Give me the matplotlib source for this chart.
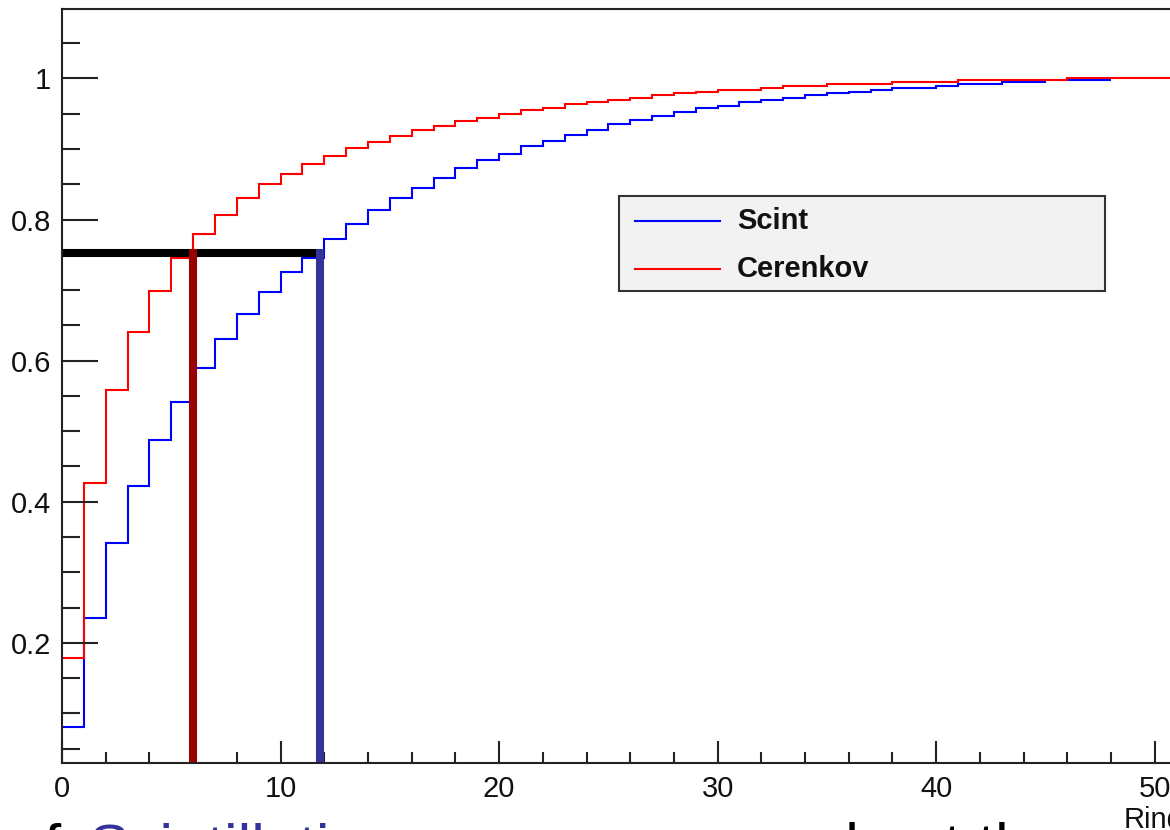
import numpy as np
import matplotlib
matplotlib.use("Agg")
import matplotlib.pyplot as plt
from matplotlib.patches import Rectangle
from matplotlib.lines import Line2D

plt.rcParams['font.family'] = ['Liberation Sans', 'DejaVu Sans']

# cumulative fraction per ring bin (bin width 1)
scint = [0.081, 0.235, 0.342, 0.422, 0.487, 0.541, 0.590, 0.630, 0.666, 0.697,
         0.725, 0.745, 0.773, 0.793, 0.813, 0.830, 0.845, 0.859, 0.873, 0.885,
         0.893, 0.904, 0.912, 0.920, 0.927, 0.935, 0.941, 0.947, 0.952, 0.958,
         0.961, 0.967, 0.969, 0.973, 0.976, 0.979, 0.981, 0.983, 0.986, 0.986,
         0.989, 0.992, 0.992, 0.995, 0.995, 0.998, 0.998, 0.998]
cerenkov = [0.178, 0.427, 0.558, 0.641, 0.699, 0.746, 0.779, 0.807, 0.830, 0.851,
            0.865, 0.879, 0.890, 0.901, 0.910, 0.918, 0.927, 0.932, 0.940, 0.944,
            0.950, 0.955, 0.958, 0.964, 0.967, 0.969, 0.973, 0.976, 0.979, 0.981,
            0.983, 0.983, 0.987, 0.989, 0.989, 0.992, 0.992, 0.992, 0.995, 0.995,
            0.995, 0.998, 0.998, 0.998, 0.998, 0.998, 1.0, 1.0, 1.0, 1.0,
            1.0, 1.0, 1.0]
labels = ["Scint", "Cerenkov"]

# 75% containment markers
level = 0.752
cer_cut = 6.0
scint_cut = 11.8

W, H = 1170, 830
fig = plt.figure(figsize=(W / 100, H / 100), dpi=100)
fig.patch.set_facecolor("white")

# axes extends past the right edge (the original is cropped)
ax = fig.add_axes([62 / W, (H - 762.5) / H, 1202 / W, (762.5 - 9) / H])
ax.set_xlim(0, 55)
ax.set_ylim(0.0303, 1.0985)

ax.stairs(scint, np.arange(len(scint) + 1), baseline=None, color="#0000ff", lw=1.5)
ax.stairs(cerenkov, np.arange(len(cerenkov) + 1), baseline=None, color="#ff0000", lw=1.5)

half = 0.0057
ax.plot([0, scint_cut], [level, level], color="black", lw=5.8, solid_capstyle="butt")
ax.plot([cer_cut, cer_cut], [0.0303, level + half], color="#990000", lw=5.8, solid_capstyle="butt")
ax.plot([scint_cut, scint_cut], [0.0303, level + half], color="#333399", lw=5.8, solid_capstyle="butt")

# ROOT-like axes
axc = "#222222"
for s in ax.spines.values():
    s.set_color(axc)
    s.set_linewidth(1.5)
ax.set_xticks(np.arange(0, 56, 10))
ax.set_xticks(np.arange(0, 56, 2), minor=True)
ax.set_yticks([0.2, 0.4, 0.6, 0.8, 1.0])
ax.set_yticklabels(["0.2", "0.4", "0.6", "0.8", "1"])
ax.set_yticks(np.arange(0.05, 1.09, 0.05), minor=True)
ax.tick_params(axis="both", which="both", direction="in", colors=axc,
               labelcolor="#111111", labelsize=21, width=1.5)
ax.tick_params(axis="x", which="major", length=16, pad=9)
ax.tick_params(axis="x", which="minor", length=8)
ax.tick_params(axis="y", which="major", length=26, pad=8)
ax.tick_params(axis="y", which="minor", length=13)

# legend box
def fx(px):
    return px / W

def fy(py):
    return (H - py) / H

fig.add_artist(Rectangle((fx(619), fy(291)), 486 / W, 95 / H, transform=fig.transFigure,
                         facecolor="#f2f2f2", edgecolor="#333333", lw=1.5))
for lab, col, py in zip(labels, ["#0000ff", "#ff0000"], [221, 269]):
    fig.add_artist(Line2D([fx(635), fx(720)], [fy(py), fy(py)], color=col, lw=1.5,
                          transform=fig.transFigure))
    fig.text(fx(737), fy(py), lab, fontsize=21, fontweight="bold", va="center",
             ha="left", color="#111111")

# axis title (cropped)
fig.text(fx(1124), fy(806), "Ring", fontsize=21, va="top", ha="left", color="#111111")

# slide caption underneath, only the tops of the tall letters show
fig.text(fx(10), fy(866), "of", fontsize=44, color="black", va="baseline", ha="left")
fig.text(fx(88), fy(866), "Scintillation", fontsize=44, color="#333399", va="baseline", ha="left")
fig.text(fx(410), fy(866), "are more spread out than", fontsize=44, color="black",
         va="baseline", ha="left")

fig.savefig("out.png", dpi=100)
